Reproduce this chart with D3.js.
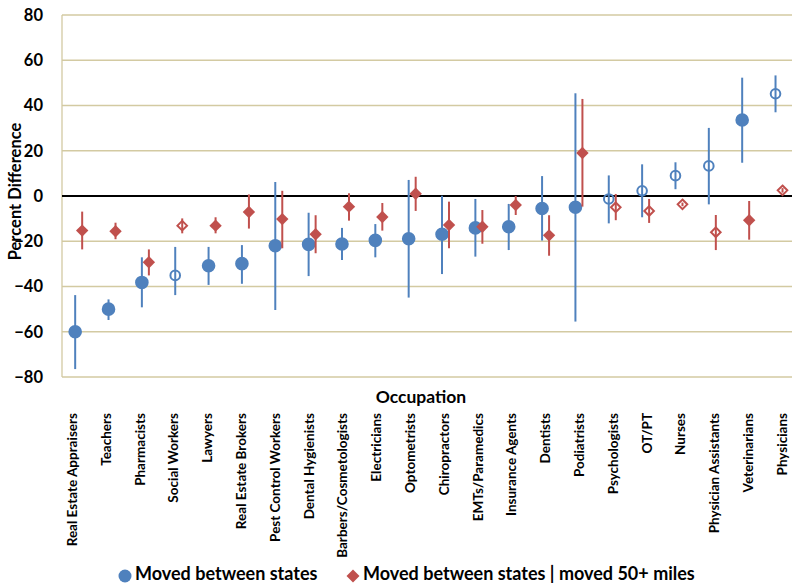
<!DOCTYPE html>
<html>
<head>
<meta charset="utf-8">
<script src="https://cdn.jsdelivr.net/npm/d3@7"></script>
<style>
  html, body { margin: 0; padding: 0; background: #fff; }
  svg { display: block; font-family: Lato, "Open Sans", "Liberation Sans", sans-serif; font-weight: bold; }
</style>
</head>
<body>
<svg id="chart" width="792" height="584"></svg>
<script>
// Occupations, ordered by the between-state difference
const categories = [
  "Real Estate Appraisers", "Teachers", "Pharmacists", "Social Workers", "Lawyers",
  "Real Estate Brokers", "Pest Control Workers", "Dental Hygienists", "Barbers/Cosmetologists",
  "Electricians", "Optometrists", "Chiropractors", "EMTs/Paramedics", "Insurance Agents",
  "Dentists", "Podiatrists", "Psychologists", "OT/PT", "Nurses", "Physician Assistants",
  "Veterinarians", "Physicians"
];

// Series 1: moved between states (estimate, lower and upper bound)
const betweenStates     = [-60, -50, -38.2, -35.1, -30.8, -29.9, -22, -21.4, -21.2, -19.6, -18.9, -16.9, -14.1, -13.6, -5.5, -5.0, -1.3, 2.3, 9.0, 13.3, 33.6, 45.2];
const betweenStatesLow  = [-76.5, -54.8, -49.2, -43.8, -39.3, -38.8, -50.4, -35.4, -28.3, -27.1, -44.9, -34.5, -26.8, -23.9, -19.7, -55.5, -12.1, -9.4, 3.0, -3.7, 14.7, 37.0];
const betweenStatesHigh = [-43.8, -45.7, -27.1, -22.5, -22.5, -21.7, 6.2, -7.4, -14.1, -12.4, 7.1, 0.1, -1.3, -3.5, 8.8, 45.4, 9.1, 14.0, 14.9, 30.1, 52.3, 53.3];
const betweenStatesSolid = [1, 1, 1, 0, 1, 1, 1, 1, 1, 1, 1, 1, 1, 1, 1, 1, 0, 0, 0, 0, 1, 0];

// Series 2: moved between states | moved 50+ miles
const moved50     = [-15.3, -15.6, -29.3, -13.1, -13.1, -7.1, -10.2, -16.9, -4.7, -9.3, 1.0, -12.8, -13.6, -4.0, -17.4, 19.0, -5.0, -6.6, -3.7, -16.0, -10.7, 2.5];
const moved50Low  = [-23.6, -19.1, -35.1, -16.5, -16.5, -14.4, -23.1, -25.3, -10.9, -15.3, -6.6, -23.1, -21.1, -8.4, -26.4, -4.7, -10.7, -11.9, -4.5, -23.9, -19.3, 1.5];
const moved50High = [-6.9, -11.8, -23.6, -9.9, -9.4, 0.7, 2.3, -8.5, 1.2, -3.1, 8.5, -2.5, -6.2, 0, -8.5, 42.9, 0.9, -1.3, -2.9, -8.4, -2.2, 3.5];
const moved50Solid = [1, 1, 1, 0, 1, 1, 1, 1, 1, 1, 1, 1, 1, 1, 1, 1, 0, 0, 0, 0, 1, 0];

const yTicks = [80, 60, 40, 20, 0, -20, -40, -60, -80];
const legendLabels = ["Moved between states", "Moved between states | moved 50+ miles"];

const BLUE = "#4F81BD", RED = "#C0504D", GRID = "#D3CAA2";

const svg = d3.select("#chart");

const x = d3.scaleBand().domain(categories).range([62, 795.7]);
const xLabel = d3.scalePoint().domain(categories).range([72, 781.7]);
const y = d3.scaleLinear().domain([-80, 80]).range([377, 15]);

// Horizontal gridlines
svg.append("g").selectAll("line")
  .data(yTicks.filter(t => t !== 0))
  .join("line")
  .attr("x1", 62).attr("x2", 792)
  .attr("y1", d => y(d)).attr("y2", d => y(d))
  .attr("stroke", GRID).attr("stroke-width", 1.3);

// Vertical axis line
svg.append("line")
  .attr("x1", 62).attr("x2", 62)
  .attr("y1", y(80)).attr("y2", y(-80))
  .attr("stroke", GRID).attr("stroke-width", 1.3);

// Zero line
svg.append("line")
  .attr("x1", 62).attr("x2", 792)
  .attr("y1", y(0)).attr("y2", y(0))
  .attr("stroke", "#000").attr("stroke-width", 2);

// Y tick labels
const yAxis = d3.axisLeft(y).tickValues(yTicks).tickSize(0).tickPadding(19);
const yG = svg.append("g").attr("transform", "translate(62,0)").call(yAxis);
yG.select(".domain").remove();
yG.selectAll("text")
  .attr("font-size", 16.5).attr("font-weight", "bold")
  .attr("font-family", "Lato, sans-serif").attr("fill", "#000");

// Axis titles
svg.append("text")
  .attr("transform", `translate(21,${y(2)}) rotate(-90)`)
  .attr("text-anchor", "middle")
  .attr("font-size", 16.5)
  .text("Percent Difference");

svg.append("text")
  .attr("x", 421).attr("y", 403)
  .attr("text-anchor", "middle")
  .attr("font-size", 17.5)
  .text("Occupation");

// Category labels
svg.append("g").selectAll("text")
  .data(categories)
  .join("text")
  .attr("transform", d => `translate(${xLabel(d) + 5},413) rotate(-90)`)
  .attr("text-anchor", "end")
  .attr("font-size", 13.5)
  .text(d => d);

const diamond = r => `M0,${-r}L${r},0L0,${r}L${-r},0Z`;

function drawSeries(values, low, high, solid, color, offset, shape) {
  const rows = categories.map((c, i) => ({
    c, v: values[i], lo: low[i], hi: high[i], solid: solid[i] === 1
  }));
  const cx = d => x(d.c) + x.bandwidth() / 2 + offset;
  const g = svg.append("g");
  g.selectAll("line")
    .data(rows)
    .join("line")
    .attr("x1", cx).attr("x2", cx)
    .attr("y1", d => y(d.hi)).attr("y2", d => y(d.lo))
    .attr("stroke", color).attr("stroke-width", 2);
  const m = g.selectAll("path.mark")
    .data(rows)
    .join("path")
    .attr("class", "mark")
    .attr("transform", d => `translate(${cx(d)},${y(d.v)})`)
    .attr("fill", d => d.solid ? color : "none")
    .attr("stroke", color)
    .attr("stroke-width", d => d.solid ? 0 : 2);
  if (shape === "circle") {
    m.attr("d", d => d3.arc()({ innerRadius: 0, outerRadius: d.solid ? 6.8 : 4.8, startAngle: 0, endAngle: 2 * Math.PI }));
  } else {
    m.attr("d", d => diamond(d.solid ? 6.2 : 4.8));
  }
}

drawSeries(betweenStates, betweenStatesLow, betweenStatesHigh, betweenStatesSolid, BLUE, -3.5, "circle");
drawSeries(moved50, moved50Low, moved50High, moved50Solid, RED, 3.5, "diamond");

// Legend
const legend = svg.append("g");
legend.append("circle").attr("cx", 125).attr("cy", 576).attr("r", 6.5).attr("fill", BLUE);
legend.append("text").attr("x", 135).attr("y", 580).attr("font-size", 18).text(legendLabels[0]);
legend.append("path").attr("d", diamond(6.5)).attr("transform", "translate(353,576)").attr("fill", RED);
legend.append("text").attr("x", 363).attr("y", 580).attr("font-size", 18).text(legendLabels[1]);
</script>
</body>
</html>
